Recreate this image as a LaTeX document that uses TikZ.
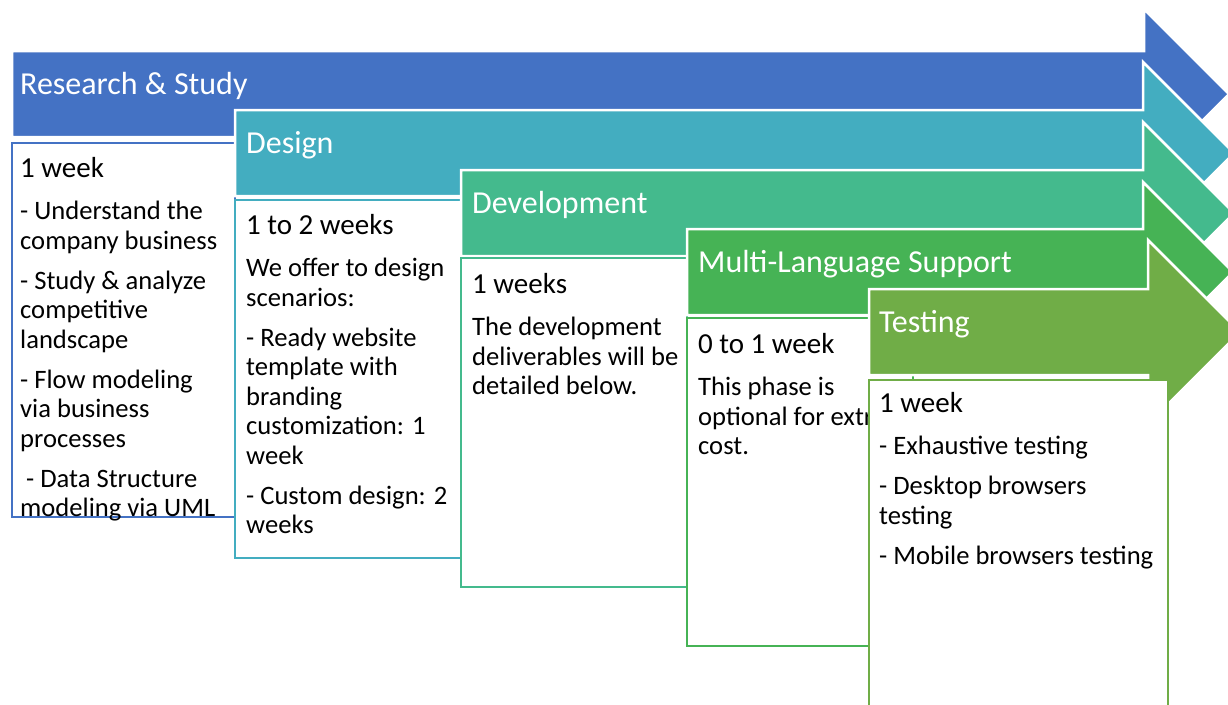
\documentclass[tikz,border=0pt]{standalone}
\usepackage{fontspec}
\setmainfont{Carlito}
\definecolor{research}{HTML}{4472C4}
\definecolor{design}{HTML}{43ADC0}
\definecolor{develop}{HTML}{44BA8D}
\definecolor{multilang}{HTML}{46B355}
\definecolor{testing}{HTML}{70AD47}
\tikzset{
  phase/.style={fill=#1, draw=white, line width=2.5pt, line join=miter},
  sheet/.style={fill=white, draw=#1, line width=2.5pt},
  title/.style={anchor=base west, inner sep=0pt, text=white, font=\fontsize{32}{36}\selectfont},
  notes/.style={anchor=north west, inner sep=0pt, align=left, font=\fontsize{26.6}{29.5}\selectfont},
}
\newcommand{\phasearrow}[5]{% left, centre, head base, head half, colour
  \filldraw[phase=#5] (#1,#2-43) -- (#3,#2-43) -- (#3,#2-#4) -- (#3+#4,#2)
    -- (#3,#2+#4) -- (#3,#2+43) -- (#1,#2+43) -- cycle;}
\newcommand{\weeks}[1]{{\fontsize{29}{29.5}\selectfont #1}\\[12.8pt]}
\begin{document}
\begin{tikzpicture}[x=1pt,y=-1pt]
  \useasboundingbox[fill=white] (0,0) rectangle (1228,704);
  \phasearrow{12}{94}{1144}{85}{research}
  \node[title] (research) at (20,94) {Research \& Study};
  \draw[sheet=research] (12,143) rectangle (235,517);
  \node[notes] (research-notes) at (20,157) {\weeks{1 week}
    - Understand the\\company business\\[10.5pt]
    - Study \& analyze\\competitive\\landscape\\[10.5pt]
    - Flow modeling\\via business\\processes\\[10.5pt]
    \ - Data Structure\\modeling via UML};

  \phasearrow{235}{153}{1143}{91}{design}
  \node[title] (design) at (246,153) {Design};
  \draw[sheet=design] (235,200) rectangle (461,558);
  \node[notes] (design-notes) at (246,214) {\weeks{1 to 2 weeks}
    We offer to design\\scenarios:\\[10.5pt]
    - Ready website\\template with\\branding\\customization: 1\\week\\[10.5pt]
    - Custom design: 2\\weeks};

  \phasearrow{461}{213}{1143}{91}{develop}
  \node[title] (develop) at (472,213) {Development};
  \draw[sheet=develop] (461,258) rectangle (687,587);
  \node[notes] (develop-notes) at (472,273) {\weeks{1 weeks}
    The development\\deliverables will be\\detailed below.};

  \phasearrow{687}{272}{1143}{90}{multilang}
  \node[title] (multilang) at (698,272) {Multi-Language Support};
  \draw[sheet=multilang] (687,318) rectangle (913,646);
  \node[notes] (multilang-notes) at (698,333) {\weeks{0 to 1 week}
    This phase is\\optional for extra\\cost.};

  \phasearrow{869}{332}{1148}{92}{testing}
  \node[title] (testing) at (879,332) {Testing};
  \draw[sheet=testing] (869,380) rectangle (1168,730);
  \node[notes] (testing-notes) at (879,392) {\weeks{1 week}
    - Exhaustive testing\\[10.5pt]
    - Desktop browsers\\testing\\[10.5pt]
    - Mobile browsers testing};
\end{tikzpicture}
\end{document}
